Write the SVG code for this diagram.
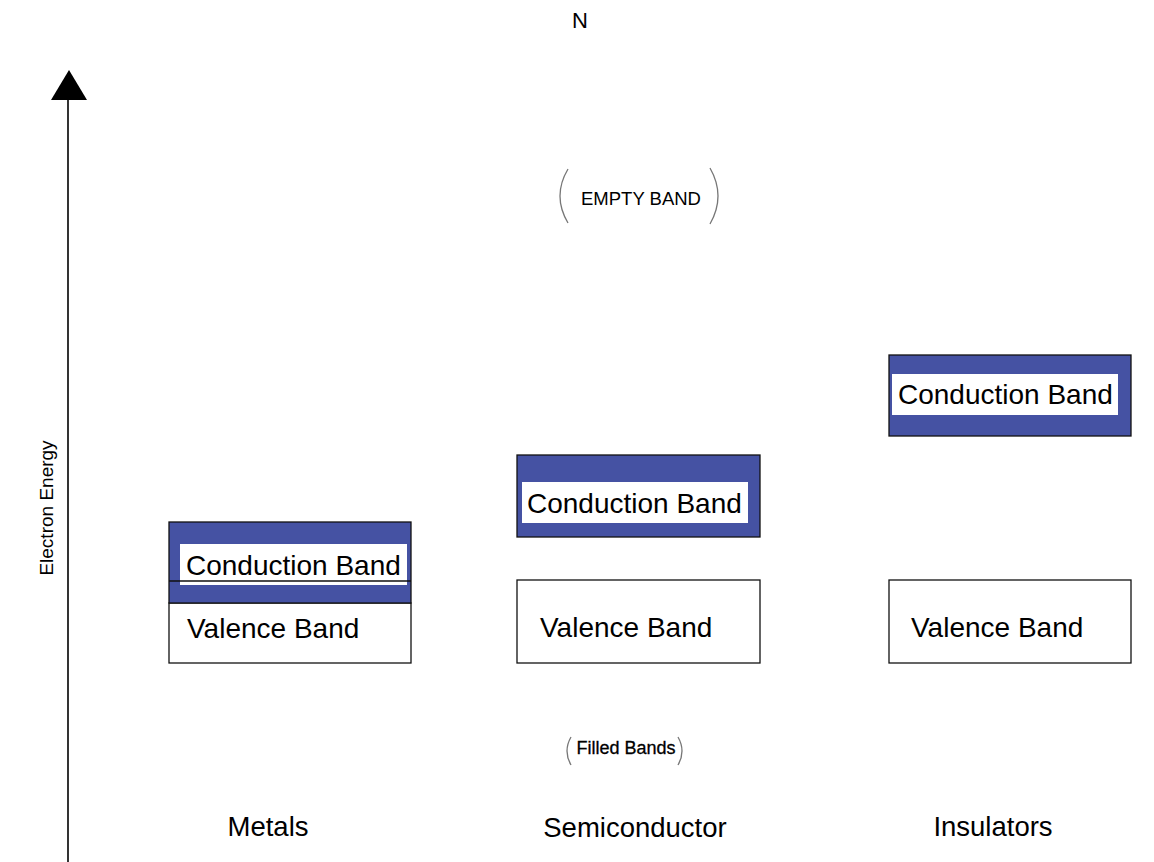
<svg xmlns="http://www.w3.org/2000/svg" width="1154" height="862" viewBox="0 0 1154 862">
<defs>
<style>
.t{font-family:"Liberation Sans",Arial,sans-serif;fill:#000}
.band{font-size:28px}
.cb{fill:#4552A3;stroke:#111;stroke-width:1.3}
.vb{fill:#fff;stroke:#111;stroke-width:1.3}
.inner{fill:#fff}
.paren{fill:none;stroke:#777;stroke-width:1.3}
.lbl{font-size:27.5px}
</style>
</defs>
<rect width="1154" height="862" fill="#fff"/>
<text class="t" x="580" y="28" font-size="22" text-anchor="middle">N</text>

<g id="connectors">
<line x1="68" y1="862" x2="68" y2="100" stroke="#000" stroke-width="1.6"/>
<path d="M51,100 L69,70 L87,100 Z" fill="#000"/>
</g>

<g id="axis-label">
<text class="t" transform="translate(53,508) rotate(-90)" font-size="19" text-anchor="middle">Electron Energy</text>
</g>

<g id="empty-band">
<path class="paren" d="M568,169 Q552,196 568,223"/>
<path class="paren" d="M710,168 Q726,196 710,224"/>
<text class="t" x="641" y="205" font-size="18.5" text-anchor="middle">EMPTY BAND</text>
</g>

<g id="filled-bands">
<path class="paren" d="M571,737 Q563,751 571,765"/>
<path class="paren" d="M678,737 Q686,751 678,765"/>
<text class="t" x="626" y="754" font-size="18" stroke="#000" stroke-width="0.3" text-anchor="middle">Filled Bands</text>
</g>

<g id="metals">
<rect class="vb" x="169" y="603" width="242" height="60"/>
<rect class="cb" x="169" y="522" width="242" height="81"/>
<rect class="inner" x="180" y="544" width="227" height="41"/>
<line x1="169" y1="581" x2="411" y2="581" stroke="#111" stroke-width="1.3"/>
<text class="t band" x="186" y="575">Conduction Band</text>
<text class="t band" x="187" y="638">Valence Band</text>
<text class="t lbl" x="268" y="836" text-anchor="middle">Metals</text>
</g>

<g id="semiconductor">
<rect class="cb" x="517" y="455" width="243" height="82"/>
<rect class="inner" x="522" y="482" width="226" height="41"/>
<text class="t band" x="527" y="513">Conduction Band</text>
<rect class="vb" x="517" y="580" width="243" height="83"/>
<text class="t band" x="540" y="637">Valence Band</text>
<text class="t lbl" x="635" y="837" text-anchor="middle">Semiconductor</text>
</g>

<g id="insulators">
<rect class="cb" x="889" y="355" width="242" height="81"/>
<rect class="inner" x="892" y="374" width="226" height="41"/>
<text class="t band" x="898" y="404">Conduction Band</text>
<rect class="vb" x="889" y="580" width="242" height="83"/>
<text class="t band" x="911" y="637">Valence Band</text>
<text class="t lbl" x="993" y="836" text-anchor="middle">Insulators</text>
</g>
</svg>
